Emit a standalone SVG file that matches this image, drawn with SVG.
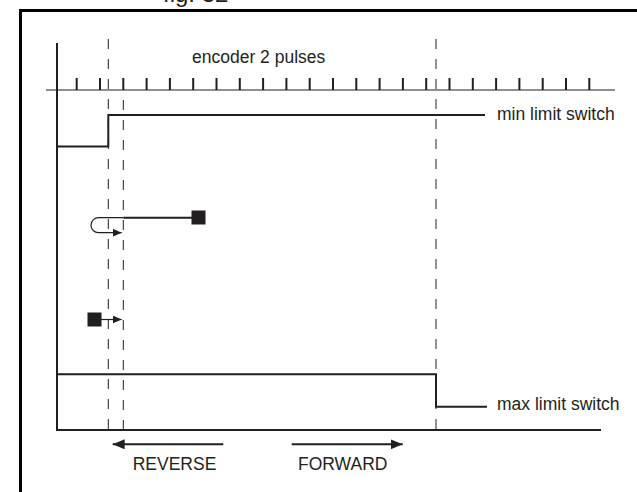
<svg xmlns="http://www.w3.org/2000/svg" width="637" height="492" viewBox="0 0 637 492">
<style>
text{font-family:"Liberation Sans",Arial,sans-serif;font-size:17.5px;fill:#231f20}
.ln{stroke:#231f20;fill:none;stroke-width:2}
.thin{stroke:#231f20;fill:none;stroke-width:1.2}
.dash{stroke:#231f20;fill:none;stroke-width:1;stroke-dasharray:10 10}
.blk{fill:#231f20}
</style>
<defs>
<marker id="ah" markerWidth="10" markerHeight="8" refX="9" refY="4" orient="auto" markerUnits="userSpaceOnUse">
<path d="M0,0 L9,4 L0,8 Z" fill="#231f20"/>
</marker>
<marker id="ahb" markerWidth="13" markerHeight="10" refX="12" refY="5" orient="auto" markerUnits="userSpaceOnUse">
<path d="M0,0 L12,5 L0,10 Z" fill="#231f20"/>
</marker>
</defs>
<rect width="637" height="492" fill="#fff"/>
<text x="163" y="2" style="font-size:24px">fig. 32</text>
<g id="frame">
<line x1="19" y1="10.5" x2="637" y2="10.5" stroke="#000" stroke-width="3"/>
<line x1="20.5" y1="9" x2="20.5" y2="492" stroke="#000" stroke-width="3"/>
</g>
<g id="axes">
<line class="ln" x1="57" y1="43" x2="57" y2="431"/>
<line class="ln" x1="56" y1="430" x2="601" y2="430"/>
</g>
<g id="encoder">
<line class="thin" x1="46" y1="90" x2="615" y2="90"/>
<path class="ln" d="M76.7,78V90M100,78V90M123.3,78V90M146.6,78V90M169.9,78V90M193.2,78V90M216.5,78V90M239.8,78V90M263.1,78V90M286.4,78V90M309.7,78V90M333,78V90M356.3,78V90M379.6,78V90M402.9,78V90M426.2,78V90M449.5,78V90M472.8,78V90M496.1,78V90M519.4,78V90M542.7,78V90M566,78V90M589.3,78V90"/>
<text x="192" y="63">encoder 2 pulses</text>
</g>
<g id="dashed">
<line class="dash" x1="108.3" y1="39" x2="108.3" y2="430"/>
<line class="dash" x1="123.3" y1="100" x2="123.3" y2="430"/>
<line class="dash" x1="436" y1="39" x2="436" y2="430"/>
</g>
<g id="min-limit">
<path class="ln" d="M57,146.5H108.3V115H485"/>
<text x="497" y="120">min limit switch</text>
</g>
<g id="max-limit">
<path class="ln" d="M57,374.3H436V406.7H487"/>
<text x="497" y="410">max limit switch</text>
</g>
<g id="move1">
<path class="thin" d="M123.3,217.7H98.5A7.5,7.5 0 0 0 98.5,232.7H121.7" marker-end="url(#ah)"/>
<line class="ln" x1="123.3" y1="217.7" x2="192" y2="217.7"/>
<rect class="blk" x="191.5" y="210.5" width="14" height="14"/>
</g>
<g id="move2">
<line class="thin" x1="100" y1="319.5" x2="121.7" y2="319.5" marker-end="url(#ah)"/>
<rect class="blk" x="87.5" y="312.5" width="14" height="14"/>
</g>
<g id="directions">
<line class="ln" x1="223.3" y1="444.3" x2="112.7" y2="444.3" marker-end="url(#ahb)"/>
<line class="ln" x1="291.7" y1="444.3" x2="402.7" y2="444.3" marker-end="url(#ahb)"/>
<text x="132.7" y="470">REVERSE</text>
<text x="298" y="470">FORWARD</text>
</g>
</svg>
